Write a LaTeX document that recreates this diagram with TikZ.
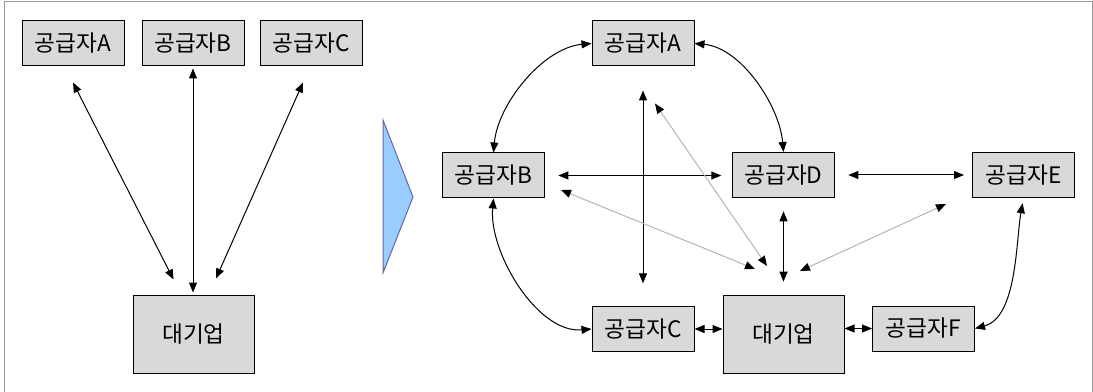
\documentclass[tikz,border=0pt]{standalone}
\usepackage{fontspec}
\newfontfamily\kfont{Noto Sans CJK KR}
\usetikzlibrary{arrows.meta,calc}
\definecolor{boxgray}{HTML}{D9D9D9}
\definecolor{linkgray}{HTML}{B4B4B4}
\definecolor{arrowblue}{HTML}{99CCFF}
\tikzset{every picture/.style={line width=0.75pt}}
\tikzset{
  firm/.style={draw, fill=boxgray, inner sep=0pt, minimum width=76.5pt, minimum height=33.75pt, font=\kfont\fontsize{17}{19}\selectfont},
  bigfirm/.style={draw, fill=boxgray, inner sep=0pt, minimum width=90.75pt, minimum height=58.5pt, font=\kfont\fontsize{17}{19}\selectfont},
  link/.style={{Triangle[length=7.5pt,width=6pt]}-{Triangle[length=7.5pt,width=6pt]}},
  softlink/.style={linkgray, {Triangle[length=7.5pt,width=6pt,color=black]}-{Triangle[length=7.5pt,width=6pt,color=black]}}
}

\begin{document}
\begin{tikzpicture}[x=0.75pt,y=0.75pt,yscale=-1,xscale=1]
	\useasboundingbox (0,0) rectangle (1093,392);

	% Frame
	\draw [color=gray!80] (4,392) -- (4,2) -- (1092,2) -- (1092,392) ;

	% Before: suppliers around one firm
	\node [firm] (lA) at (73,43.5) {공급자A};
	\node [firm] (lB) at (193,43.5) {공급자B};
	\node [firm] (lC) at (311.5,43.5) {공급자C};
	\node [bigfirm] (lBig) at (193.5,334) {대기업};

	\draw [link] ($(lA.south)+(0,16)$) -- ($(lBig.north)+(-20,-15)$) ;
	\draw [link, shorten <=1.5pt, shorten >=1.5pt] (lB.south) -- (lB.south |- lBig.north) ;
	\draw [link] ($(lC.south)+(-8.5,16)$) -- ($(lBig.north)+(22.5,-16)$) ;

	% Shape: Triangle
	\draw [fill=arrowblue, draw=black!60!blue!60] (383,120) -- (413,197) -- (383,273) -- cycle ;

	% After: suppliers linked to each other
	\node [firm] (rA) at (643,43.5) {공급자A};
	\node [firm] (rB) at (493.5,175.5) {공급자B};
	\node [firm] (rD) at (783.5,175) {공급자D};
	\node [firm] (rE) at (1023.5,175) {공급자E};
	\node [firm] (rC) at (643,329) {공급자C};
	\node [firm] (rF) at (923.5,328.5) {공급자F};
	\node [bigfirm] (rBig) at (783.5,334.5) {대기업};

	% Curve Lines (y axis points down, so 90 is downwards)
	\draw [link] (rA.west) to[out=175,in=-85,looseness=0.85] (rB.north) ;
	\draw [link] (rA.east) to[out=5,in=-95,looseness=0.85] (rD.north) ;
	\draw [link] (rB.south) to[out=95,in=175,looseness=0.85] (rC.west) ;
	\draw [link, shorten <=4pt] (rE.south) to[out=100,in=-15,looseness=0.8] (rF.east) ;

	% Straight Lines
	\draw [link, shorten <=10pt, shorten >=8pt] (rB.east) -- (rB.east -| rD.west) ;
	\draw [link, shorten <=10pt, shorten >=6pt] (rD.east) -- (rE.west) ;
	\draw [link, shorten <=18pt, shorten >=17pt] (rA.south) -- (rC.north) ;
	\draw [link, shorten <=10pt, shorten >=10pt] (rD.south) -- (rD.south |- rBig.north) ;
	\draw [link] (rC.east) -- (rC.east -| rBig.west) ;
	\draw [link] (rF.west) -- (rF.west -| rBig.east) ;

	% Light lines
	\draw [softlink] ($(rA.south)+(12,37)$) -- ($(rBig.north)+(-16.5,-29)$) ;
	\draw [softlink] ($(rB.east)+(16,14.5)$) -- ($(rBig.north)+(-28.5,-26)$) ;
	\draw [softlink] ($(rE.south west)+(-26,6)$) -- ($(rBig.north)+(16.5,-24)$) ;

\end{tikzpicture}
\end{document}
